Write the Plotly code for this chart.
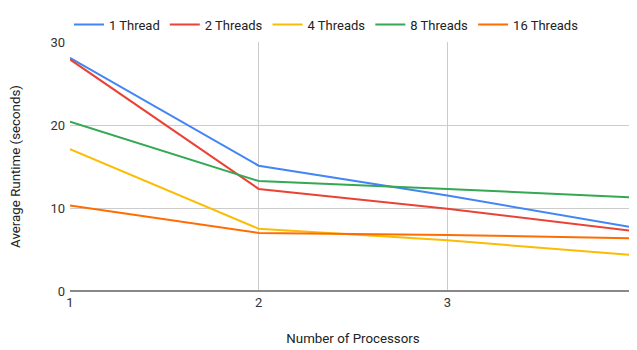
import plotly.graph_objects as go

processors = [1, 2, 3, 4]
series_names = ["1 Thread", "2 Threads", "4 Threads", "8 Threads", "16 Threads"]
t1 = [28.1, 15.1, 11.5, 7.6]
t2 = [27.9, 12.3, 9.9, 7.2]
t4 = [17.1, 7.5, 6.1, 4.3]
t8 = [20.4, 13.25, 12.3, 11.25]
t16 = [10.3, 7.0, 6.75, 6.35]
colors = ["#4285F4", "#EA4335", "#FBBC04", "#34A853", "#FF6D01"]
y_ticks = [0, 10, 20, 30]

fig = go.Figure()
for name, vals, c in zip(series_names, [t1, t2, t4, t8, t16], colors):
    fig.add_trace(go.Scatter(x=processors, y=vals, name=name, mode="lines",
                             line=dict(color=c, width=2)))

fig.update_layout(
    width=637, height=350,
    margin=dict(l=62, r=9, t=34, b=67, autoexpand=False),
    paper_bgcolor="white", plot_bgcolor="white",
    font=dict(family="Roboto, Arial, sans-serif", size=12, color="#444"),
    legend=dict(orientation="h", x=0.5, xanchor="center", xref="container",
                y=1.13, yanchor="top", yref="paper",
                font=dict(size=13, color="#222"), itemwidth=30),
    showlegend=True,
)
fig.update_xaxes(range=[1, 4], tickvals=processors, showgrid=True, gridcolor="#cccccc",
                 zeroline=False, showline=False, ticks="", automargin=False,
                 ticklabelstandoff=2, tickfont=dict(size=13, color="#333"),
                 title=dict(text="Number of Processors", font=dict(size=13.3, color="#222"), standoff=24))
fig.update_yaxes(range=[0, 30], tickvals=y_ticks, showgrid=True, gridcolor="#cccccc",
                 zeroline=True, zerolinecolor="#888", zerolinewidth=2, ticks="",
                 automargin=False, ticklabelstandoff=4, tickfont=dict(size=13, color="#333"),
                 title=dict(text="Average Runtime (seconds)", font=dict(size=13.3, color="#222"), standoff=30))

fig.write_html("out.html")
